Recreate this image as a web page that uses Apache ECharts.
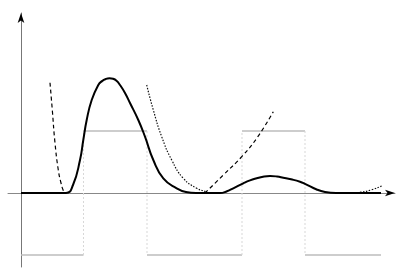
<!DOCTYPE html>
<html><head><meta charset="utf-8">
<script src="https://cdn.jsdelivr.net/npm/echarts@6/dist/echarts.min.js"></script>
<style>html,body{margin:0;padding:0;background:#fff}#c{width:409px;height:277px}</style>
</head><body><div id="c"></div>
<script>
// values in data units (x from the vertical axis, y from the horizontal axis)
const responseCurve = [[0,0],[45,0],[52,8],[59,33],[62.3,53],[65.7,73],[70.7,93],[77.3,108],[81,111.9],[85,114.1],[88.5,114.7],[92,114.2],[95.5,112.3],[99,108],[104,100],[109,90],[117.3,73],[124,56.3],[132.3,33],[142.3,14.7],[155.7,4.7],[165,1],[175,0],[199,0],[206,1.8],[212.3,4.7],[222.3,9.7],[229,12.6],[235.7,14.7],[242,16.3],[249,17],[256,16.5],[262.3,15.3],[270,13.7],[279,11.3],[284,9.2],[295.7,3.5],[304,1],[315,0],[360,0]];
const dashedLeft = [[29,110.3],[31.3,83],[34,50],[37.3,23],[40,10],[42.3,2.5],[44,0]];
const dottedMiddle = [[125.7,108],[132.3,83],[140.7,56.3],[150.7,33],[162.3,14.7],[175.7,4.7],[185.7,1],[187,0]];
const dashedRight = [[184,0],[202.3,18],[220.7,36.3],[235.7,54.7],[252.3,81.3]];
const dottedRight = [[330,0],[340,0.8],[350,3],[360.7,7]];
const stepEdges = [0, 62.5, 126, 221, 284, 360];
const stepLevels = [-62, 62, -62, 62, -62];
const xRange = [-13, 374];
const yRange = [-74, 180];

const series = [];
for (let i = 0; i < stepLevels.length; i++) {
  series.push({type:'line', data:[[stepEdges[i], stepLevels[i]],[stepEdges[i+1], stepLevels[i]]],
    symbol:'none', silent:true, z:1, lineStyle:{color:'#bdbdbd', width:1.5}});
}
for (let i = 1; i < stepLevels.length; i++) {
  series.push({type:'line', data:[[stepEdges[i], stepLevels[i-1]],[stepEdges[i], stepLevels[i]]],
    symbol:'none', silent:true, z:1, lineStyle:{color:'#d8d8d8', width:1, type:[2,2]}});
}
series.push({type:'line', data:dashedLeft, smooth:true, symbol:'none', z:3, lineStyle:{color:'#000', width:1.2, type:[4,3]}});
series.push({type:'line', data:dottedMiddle, smooth:true, symbol:'none', z:3, lineStyle:{color:'#111', width:1.2, type:[1.5,1.5]}});
series.push({type:'line', data:dashedRight, smooth:true, symbol:'none', z:3, lineStyle:{color:'#000', width:1.2, type:[4,3]}});
series.push({type:'line', data:dottedRight, smooth:true, symbol:'none', z:3, lineStyle:{color:'#111', width:1.2, type:[1.5,1.5]}});
series.push({type:'line', data:responseCurve, smooth:0.5, symbol:'none', z:4, lineStyle:{color:'#000', width:2},
  markPoint:{silent:true, symbol:'arrow', symbolSize:[5,10], label:{show:false}, itemStyle:{color:'#000'},
    data:[{coord:[xRange[1],0], symbolRotate:-90},{coord:[0,yRange[1]], symbolRotate:0}]}});

const chart = echarts.init(document.getElementById('c'), null, {renderer:'canvas'});
chart.setOption({
  animation:false,
  backgroundColor:'#fff',
  grid:{left:8, right:14, top:13, bottom:10, containLabel:false},
  xAxis:{type:'value', min:xRange[0], max:xRange[1], axisLine:{onZero:true, lineStyle:{color:'#888', width:1}},
    axisTick:{show:false}, axisLabel:{show:false}, splitLine:{show:false}},
  yAxis:{type:'value', min:yRange[0], max:yRange[1], axisLine:{show:true, onZero:true, lineStyle:{color:'#777', width:1}},
    axisTick:{show:false}, axisLabel:{show:false}, splitLine:{show:false}},
  series: series
});
</script></body></html>
